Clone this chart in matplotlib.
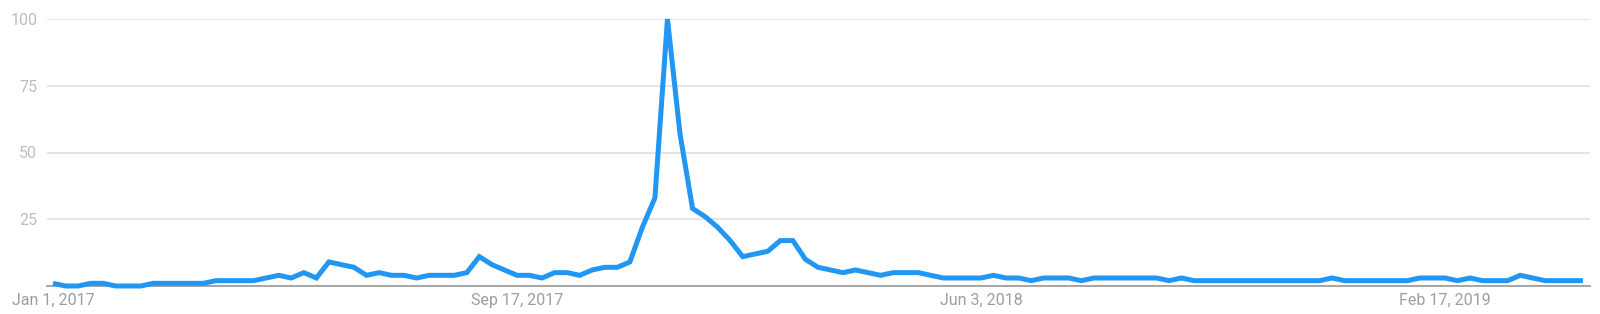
import numpy as np
import pandas as pd
import matplotlib.pyplot as plt
import matplotlib.dates as mdates

plt.rcParams['font.family'] = ['Roboto', 'DejaVu Sans']

# Weekly interest values (Google Trends style), starting Jan 1, 2017
start_date = '2017-01-01'
interest = [
    1, 0, 0, 1, 1, 0, 0, 0, 1, 1,
    1, 1, 1, 2, 2, 2, 2, 3, 4, 3,
    5, 3, 9, 8, 7, 4, 5, 4, 4, 3,
    4, 4, 4, 5, 11, 8, 6, 4, 4, 3,
    5, 5, 4, 6, 7, 7, 9, 22, 33, 100,
    57, 29, 26, 22, 17, 11, 12, 13, 17, 17,
    10, 7, 6, 5, 6, 5, 4, 5, 5, 5,
    4, 3, 3, 3, 3, 4, 3, 3, 2, 3,
    3, 3, 2, 3, 3, 3, 3, 3, 3, 2,
    3, 2, 2, 2, 2, 2, 2, 2, 2, 2,
    2, 2, 3, 2, 2, 2, 2, 2, 2, 3,
    3, 3, 2, 3, 2, 2, 2, 4, 3, 2,
    2, 2, 2,
]
weeks = pd.date_range(start_date, periods=len(interest), freq='7D')

tick_dates = ['2017-01-01', '2017-09-17', '2018-06-03', '2019-02-17']
tick_labels = ['Jan 1, 2017', 'Sep 17, 2017', 'Jun 3, 2018', 'Feb 17, 2019']
y_ticks = [25, 50, 75, 100]

W, H = 1600, 314
fig = plt.figure(figsize=(W / 100, H / 100), dpi=100)
ax = fig.add_axes([47 / W, (H - 286) / H, (1590 - 47) / W, (286 - 19) / H])

ax.plot(weeks, interest, color='#2196f3', lw=3.6, solid_joinstyle='miter',
        solid_capstyle='butt', clip_on=False, zorder=3)

t0 = mdates.date2num(pd.Timestamp(start_date))
ax.set_xlim(t0 - 7 * 6 / 12.54, t0 + 7 * (1590 - 53) / 12.54)
ax.set_ylim(0, 100)

ax.set_yticks(y_ticks)
ax.set_yticklabels([str(v) for v in y_ticks])
ax.set_xticks(mdates.date2num(pd.to_datetime(tick_dates)))
ax.set_xticklabels(tick_labels)

ax.grid(axis='y', color='#e0e0e0', lw=1.2)
ax.set_axisbelow(True)
for side in ['top', 'right', 'left']:
    ax.spines[side].set_visible(False)
ax.spines['bottom'].set_color('#9e9e9e')
ax.spines['bottom'].set_linewidth(1.3)

ax.tick_params(axis='y', length=0, pad=7, labelsize=11.5, labelcolor='#bdbdbd')
ax.tick_params(axis='x', length=0, pad=5, labelsize=11.5, labelcolor='#9e9e9e')

fig.savefig('out.png', dpi=100, facecolor='white')
